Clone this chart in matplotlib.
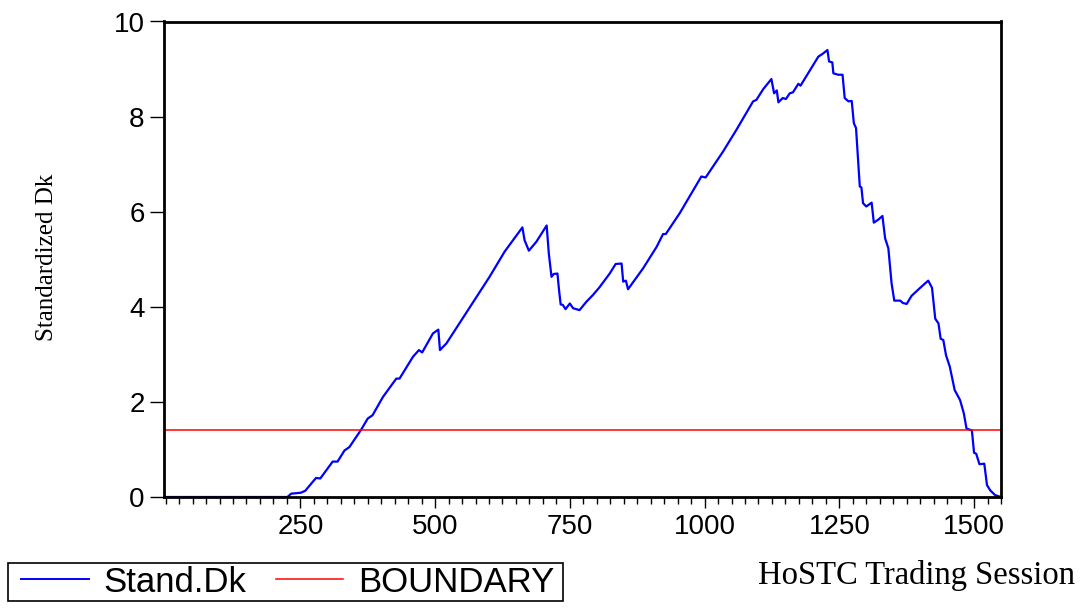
import numpy as np
import matplotlib.pyplot as plt
from matplotlib.ticker import MultipleLocator
from matplotlib.lines import Line2D
from matplotlib.patches import Rectangle

# Стандартизированная статистика Dk по торговым сессиям
session = [1, 226, 233, 251, 259, 270, 279, 287, 298, 310, 319, 332, 341, 363, 375,
           384, 403, 428, 434, 459, 470, 476, 496, 506, 509, 521, 545, 573, 601, 629,
           647, 662, 666, 674, 688, 707, 711, 716, 720, 727, 730, 733, 737, 742, 750,
           756, 768, 781, 793, 805, 824, 835, 846, 849, 854, 858, 886, 911, 923, 928,
           954, 994, 1002, 1034, 1059, 1090, 1096, 1109, 1124, 1129, 1134, 1137, 1145,
           1151, 1158, 1164, 1174, 1178, 1211, 1219, 1228, 1231, 1237, 1239, 1248, 1256,
           1260, 1267, 1273, 1277, 1281, 1288, 1291, 1294, 1300, 1310, 1314, 1322, 1330,
           1335, 1341, 1347, 1352, 1363, 1368, 1375, 1384, 1403, 1415, 1422, 1428, 1434,
           1438, 1443, 1448, 1455, 1464, 1474, 1481, 1486, 1496, 1500, 1504, 1510, 1519,
           1524, 1530, 1539, 1547, 1550]
stand_dk = [0.0, 0.0, 0.07, 0.09, 0.13, 0.28, 0.40, 0.39, 0.56, 0.745, 0.745, 0.98, 1.05,
            1.42, 1.65, 1.72, 2.10, 2.49, 2.49, 2.95, 3.09, 3.04, 3.44, 3.52, 3.09, 3.23,
            3.65, 4.14, 4.63, 5.16, 5.44, 5.67, 5.40, 5.18, 5.37, 5.71, 5.12, 4.63, 4.69,
            4.70, 4.35, 4.05, 4.04, 3.95, 4.07, 3.97, 3.93, 4.11, 4.25, 4.41, 4.70, 4.90,
            4.91, 4.53, 4.55, 4.37, 4.81, 5.26, 5.53, 5.53, 5.97, 6.74, 6.72, 7.26, 7.72,
            8.32, 8.35, 8.58, 8.79, 8.49, 8.55, 8.30, 8.39, 8.37, 8.49, 8.51, 8.69, 8.65,
            9.26, 9.32, 9.40, 9.16, 9.14, 8.91, 8.88, 8.88, 8.39, 8.32, 8.33, 7.86, 7.76,
            6.53, 6.51, 6.18, 6.11, 6.19, 5.77, 5.83, 5.91, 5.44, 5.23, 4.49, 4.13, 4.13,
            4.08, 4.06, 4.23, 4.43, 4.55, 4.40, 3.75, 3.65, 3.33, 3.30, 2.98, 2.74, 2.25,
            2.04, 1.76, 1.44, 1.40, 0.93, 0.91, 0.69, 0.70, 0.25, 0.14, 0.04, 0.01, 0.0]
boundary = 1.41

W, H = 1085, 608
fig = plt.figure(figsize=(W / 100, H / 100), dpi=100)
ax = fig.add_axes([164 / W, 1 - 497 / H, (1001 - 164) / W, (497 - 21.5) / H])

ax.plot(session, stand_dk, color='#0000ff', lw=1.6)
ax.axhline(boundary, color='#ff0000', lw=1.1)

ax.set_xlim(-3, 1550)
ax.set_ylim(0, 10)
ax.xaxis.set_major_locator(MultipleLocator(250))
ax.xaxis.set_minor_locator(MultipleLocator(25))
ax.set_xticks([250, 500, 750, 1000, 1250, 1500])
ax.set_yticks([0, 2, 4, 6, 8, 10])

for s in ax.spines.values():
    s.set_linewidth(2.0)
ax.tick_params(axis='x', which='major', length=8, width=1, pad=4,
               labelsize=20, labelfontfamily='Liberation Sans')
ax.tick_params(axis='x', which='minor', length=5, width=1)
ax.tick_params(axis='y', which='major', length=10, width=1, pad=4,
               labelsize=20, labelfontfamily='Liberation Sans')

fig.text(47 / W, 1 - 257 / H, 'Standardized Dk', rotation=90, ha='center', va='center',
         family='Liberation Serif', fontsize=18)
fig.text(1075 / W, 1 - 584 / H, 'HoSTC Trading Session', ha='right', va='baseline',
         family='Liberation Serif', fontsize=23.5)

# Легенда внизу слева, рамка рисуется отдельно
handles = [Line2D([], [], color='#0000ff', lw=1.4), Line2D([], [], color='#ff0000', lw=1.1)]
leg = fig.legend(handles, ['Stand.Dk', 'BOUNDARY'], loc='center left',
                 bbox_to_anchor=(21 / W, 1 - 582 / H), ncol=2, frameon=False,
                 prop={'family': 'Liberation Sans', 'size': 25},
                 handlelength=1.95, handletextpad=0.42, columnspacing=0.85,
                 borderpad=0, borderaxespad=0)
fig.add_artist(Rectangle((8 / W, 1 - 601 / H), (563 - 8) / W, (601 - 563) / H,
                         transform=fig.transFigure, fill=False, edgecolor='black', lw=1.2))

fig.savefig('out.png', dpi=100)
